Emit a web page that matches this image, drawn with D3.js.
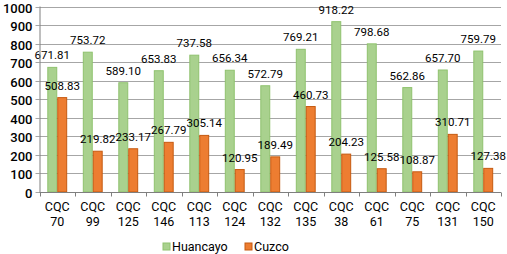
<!DOCTYPE html>
<html lang="en">
  <head>
    <meta charset="utf-8">
    <title>Huancayo vs Cuzco</title>
    <style>
      body { margin: 0; background: #fff; }
      text { font-family: Roboto, "Open Sans", sans-serif; fill: #000; }
    </style>
  </head>
  <body>
    <svg class="chart"></svg>
    <script src="https://d3js.org/d3.v7.min.js"></script>
    <script>
    // chart values
    const categories = ["70", "99", "125", "146", "113", "124", "132", "135", "38", "61", "75", "131", "150"];
    const huancayo = [671.81, 753.72, 589.10, 653.83, 737.58, 656.34, 572.79, 769.21, 918.22, 798.68, 562.86, 657.70, 759.79];
    const cuzco = [508.83, 219.82, 233.17, 267.79, 305.14, 120.95, 189.49, 460.73, 204.23, 125.58, 108.87, 310.71, 127.38];
    const seriesNames = ["Huancayo", "Cuzco"];
    const yTicks = [0, 100, 200, 300, 400, 500, 600, 700, 800, 900, 1000];

    const width = 507, height = 254;
    const margins = { left: 39.5, right: 6, top: 6.5, bottom: 62 };
    const colors = { Huancayo: "#a9d18e", Cuzco: "#ed7d31" };
    const strokes = { Huancayo: "#8fc26e", Cuzco: "#c55a11" };

    const svg = d3.select(".chart").attr("width", width).attr("height", height);

    const rows = categories.map((c, i) => ({ cat: c, Huancayo: huancayo[i], Cuzco: cuzco[i] }));

    const x0 = d3.scaleBand().domain(categories)
      .range([margins.left, width - margins.right])
      .paddingInner(0.44).paddingOuter(0.22);
    const x1 = d3.scaleBand().domain(seriesNames).range([0, x0.bandwidth()]);
    const y = d3.scaleLinear().domain([0, 1000]).range([height - margins.bottom, margins.top]);

    // gridlines + y axis
    const yAxis = d3.axisLeft(y).tickValues(yTicks).tickFormat(d3.format("d")).tickSize(4).tickPadding(3);
    const gy = svg.append("g").attr("transform", "translate(" + margins.left + ",0)").call(yAxis);
    gy.select(".domain").remove();
    gy.selectAll(".tick line").attr("stroke", "#a6a6a6");
    gy.selectAll(".tick text").style("font-size", "13px").style("font-weight", "500")
      .style("font-family", "Roboto, sans-serif").attr("fill", "#111").attr("dy", "0.4em");
    svg.append("g").selectAll("line").data(yTicks).enter().append("line")
      .attr("x1", margins.left).attr("x2", width - margins.right)
      .attr("y1", d => Math.round(y(d)) + 0.5).attr("y2", d => Math.round(y(d)) + 0.5)
      .attr("stroke", "#a6a6a6");
    gy.selectAll(".tick").attr("transform", d => "translate(0," + (Math.round(y(d)) + 0.5) + ")");

    // bars
    const groups = svg.append("g").selectAll("g").data(rows).enter().append("g")
      .attr("transform", d => "translate(" + x0(d.cat) + ",0)");
    groups.selectAll("rect").data(d => seriesNames.map(k => ({ key: k, value: d[k] }))).enter().append("rect")
      .attr("x", d => x1(d.key) + 0.5)
      .attr("y", d => y(d.value))
      .attr("width", x1.bandwidth() - 1)
      .attr("height", d => y(0) - y(d.value))
      .attr("fill", d => colors[d.key])
      .attr("stroke", d => strokes[d.key]).attr("stroke-width", 1);
    groups.selectAll("text.lbl").data(d => seriesNames.map(k => ({ key: k, value: d[k] }))).enter().append("text")
      .attr("class", "lbl")
      .attr("x", d => x1(d.key) + x1.bandwidth() / 2)
      .attr("y", d => y(d.value) - 8)
      .attr("text-anchor", "middle")
      .style("font-size", "11.5px")
      .text(d => d.value.toFixed(2));

    // x axis with category separators
    const axisY = Math.round(y(0)) + 0.5;
    svg.append("line").attr("x1", margins.left).attr("x2", width - margins.right)
      .attr("y1", axisY).attr("y2", axisY).attr("stroke", "#7f7f7f");
    svg.append("line").attr("x1", margins.left + 0.5).attr("x2", margins.left + 0.5)
      .attr("y1", margins.top).attr("y2", axisY).attr("stroke", "#7f7f7f");
    const step = x0.step();
    const seps = d3.range(categories.length + 1).map(i => margins.left + i * step);
    svg.append("g").selectAll("line").data(seps).enter().append("line")
      .attr("x1", d => Math.round(d) + 0.5).attr("x2", d => Math.round(d) + 0.5)
      .attr("y1", axisY).attr("y2", axisY + 4).attr("stroke", "#7f7f7f");
    const xLabels = svg.append("g");
    xLabels.selectAll("text.cqc").data(categories).enter().append("text")
      .attr("class", "cqc")
      .attr("x", d => x0(d) + x0.bandwidth() / 2).attr("y", axisY + 18)
      .attr("text-anchor", "middle").style("font-size", "12.5px").text("CQC");
    xLabels.selectAll("text.num").data(categories).enter().append("text")
      .attr("class", "num")
      .attr("x", d => x0(d) + x0.bandwidth() / 2).attr("y", axisY + 33)
      .attr("text-anchor", "middle").style("font-size", "12.5px").text(d => d);

    // legend
    const legendX = [163, 245];
    const legend = svg.append("g").selectAll("g").data(seriesNames).enter().append("g")
      .attr("transform", (d, i) => "translate(" + legendX[i] + ",243)");
    legend.append("rect").attr("width", 7).attr("height", 7)
      .attr("fill", d => colors[d]).attr("stroke", d => strokes[d]);
    legend.append("text").attr("x", 9).attr("y", 7.5).style("font-size", "12.5px").text(d => d);
    </script>
  </body>
</html>
